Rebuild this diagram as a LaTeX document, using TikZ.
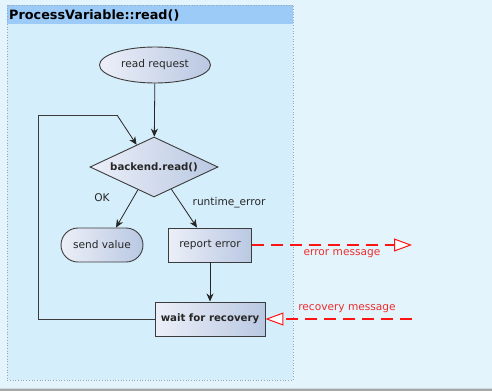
\documentclass[tikz,border=0pt]{standalone}
\usepackage{fontspec}
\setmainfont{DejaVu Sans}
\usetikzlibrary{shapes.geometric,arrows.meta,calc}

\definecolor{canvas}{HTML}{E3F4FC}
\definecolor{framebg}{HTML}{D5EEFB}
\definecolor{headbg}{HTML}{9CCBF8}
\definecolor{framebd}{HTML}{9AA6B4}
\definecolor{nodeL}{HTML}{ECEFF8}
\definecolor{nodeR}{HTML}{B9C8E2}
\definecolor{outline}{HTML}{3C3C3C}
\definecolor{msgred}{HTML}{FF1414}
\definecolor{msgtext}{HTML}{EE2C2C}

\tikzset{
  flownode/.style={draw=outline, line width=0.9pt, left color=nodeL, right color=nodeR,
    font=\fontsize{10.6}{12}\selectfont, text=black!85, inner sep=2pt},
  boldtext/.style={font=\fontsize{10.2}{12}\selectfont\bfseries},
  startnode/.style={flownode, ellipse, minimum width=111pt, minimum height=36pt},
  decision/.style={flownode, diamond, aspect=2, minimum width=128pt, minimum height=60pt, boldtext},
  endnode/.style={flownode, rectangle, rounded corners=17pt, minimum width=82pt, minimum height=34pt},
  action/.style={flownode, rectangle, minimum width=83pt, minimum height=34pt},
  flow/.style={draw=black!85, line width=0.8pt, -{Stealth[length=8pt, width=7pt, inset=2.5pt]}},
  loopline/.style={draw=outline, line width=0.8pt},
  message/.style={draw=msgred, line width=2.8pt, dash pattern=on 12pt off 7pt,
    -{Triangle[open, fill=white, length=18pt, width=13pt, line width=1pt]}},
  msglabel/.style={text=msgtext, font=\fontsize{10.6}{12}\selectfont},
  guard/.style={text=black!85, font=\fontsize{10.6}{12}\selectfont}
}

\begin{document}
\begin{tikzpicture}[x=1pt, y=-1pt]
  \useasboundingbox (0,0) rectangle (492,391);

  % canvas with its bottom shadow
  \fill[gray!70] (0,386) rectangle (492,391);
  \fill[canvas, rounded corners=6pt] (-10,-10) rectangle (502,388.5);

  % activity frame and its title bar
  \fill[framebg] (7,5) rectangle (293,380);
  \fill[headbg] (7,5) rectangle (293,24);
  \draw[framebd, line width=0.7pt, dotted] (7,5) rectangle (293,380);
  \node[anchor=west, font=\fontsize{12.8}{14}\selectfont\bfseries, text=black, inner sep=0pt]
    (title) at (9,15) {ProcessVariable::read()};

  % flow nodes
  \node[startnode] (req) at (155,65) {read request};
  \node[decision] (dec) at (154,167) {backend.read()};
  \node[endnode] (send) at (102,245) {send value};
  \node[action] (rep) at (210,245) {report error};
  \node[action, minimum width=110pt, boldtext] (wait) at (210,319) {wait for recovery};

  % control flow
  \draw[flow] (req) -- (dec);
  \draw[flow] ($(dec.south)!0.25!(dec.west)$) -- ($(send.north)+(14,0)$);
  \draw[flow] ($(dec.south)!0.27!(dec.east)$) -- ($(rep.north)+(-13,0)$);
  \draw[flow] (rep) -- (wait);

  % retry loop back into the decision
  \coordinate (loopa) at (38,319);
  \coordinate (loopb) at (38,115);
  \coordinate (loopc) at (117,115);
  \draw[loopline] (wait.west) -- (loopa) -- (loopb) -- (loopc);
  \draw[flow] (loopc) -- ($(dec.north)!0.27!(dec.west)$);

  % guards
  \node[guard] (ok) at (102,198) {OK};
  \node[guard] (rt) at (229,203) {runtime\_error};

  % messages
  \coordinate (errout) at (412,245);
  \coordinate (recin) at (412,319);
  \draw[message] (rep.east) -- (errout);
  \node[msglabel] (errlbl) at (342,254) {error message};
  \draw[message] (recin) -- (wait.east);
  \node[msglabel] (reclbl) at (347,309) {recovery message};
\end{tikzpicture}
\end{document}
